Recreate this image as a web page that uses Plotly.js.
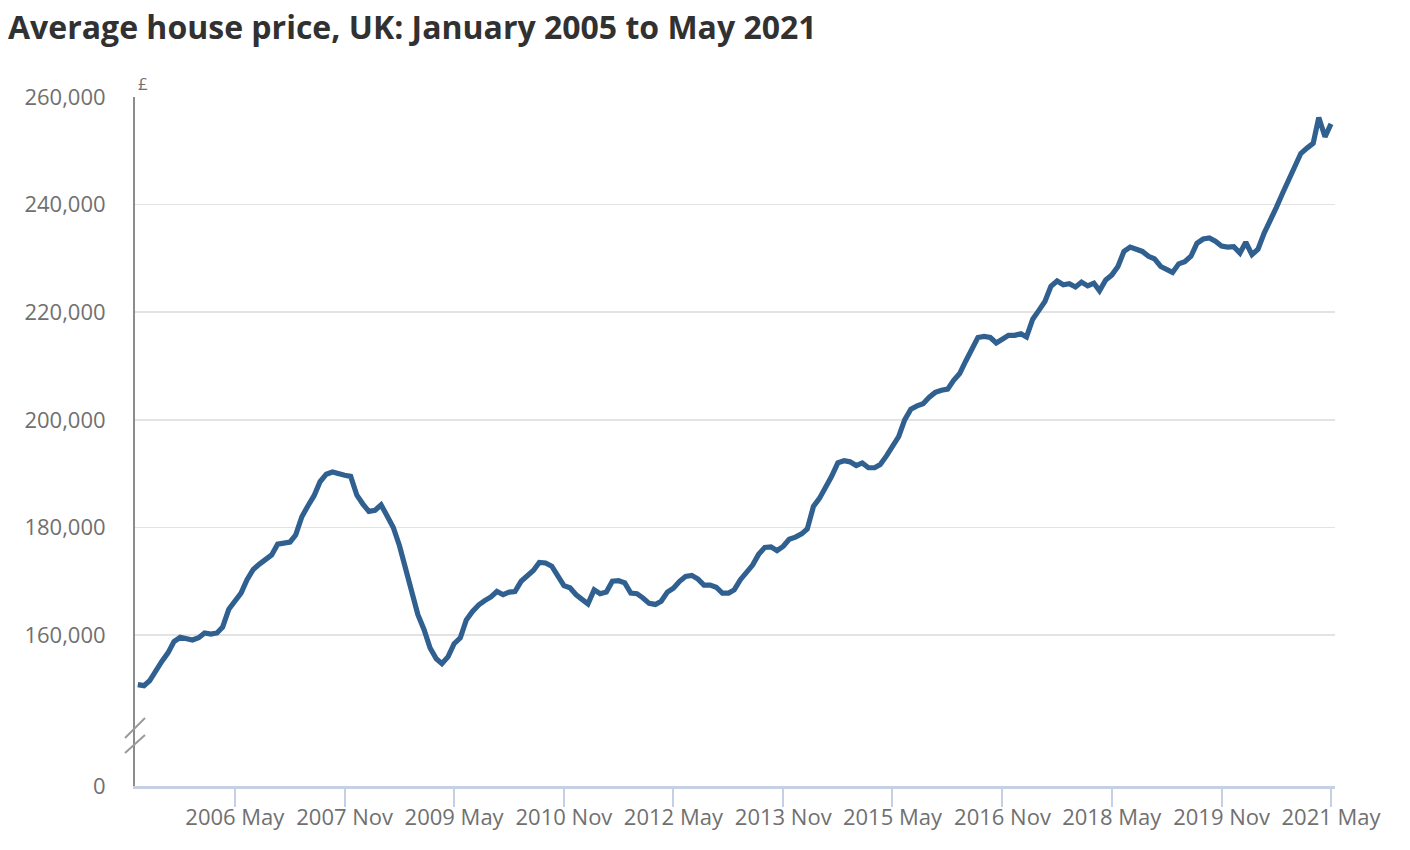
<!DOCTYPE html>
<html>
<head>
<meta charset="utf-8">
<script src="https://cdn.plot.ly/plotly-3.0.1.min.js"></script>
<style>
  html, body { margin: 0; padding: 0; background: #ffffff; }
  #chart { width: 1410px; height: 850px; }
</style>
</head>
<body>
<div id="chart"></div>
<script>
// Average house price, UK, monthly, January 2005 to May 2021 (£)
const startYear = 2005;
const startMonth = 1;
const prices = [
  // 2005
  150800, 150600, 151500, 153500, 155100, 156700, 158800, 159600, 159400, 159100, 159500, 160400,
  // 2006
  160200, 160400, 161500, 164800, 166300, 167800, 170300, 172200, 173200, 174100, 174900, 176900,
  // 2007
  177000, 177300, 178600, 182000, 184000, 185900, 188500, 189900, 190300, 189900, 189700, 189500,
  // 2008
  186000, 184300, 183000, 183200, 184200, 182100, 180000, 176600, 172000, 167900, 163800, 161100,
  // 2009
  157600, 155600, 154700, 156000, 158400, 159500, 162800, 164400, 165600, 166400, 167100, 168100,
  // 2010
  167500, 168000, 168100, 170000, 171000, 172000, 173500, 173400, 172800, 171100, 169200, 168800,
  // 2011
  167500, 166600, 165800, 168400, 167700, 168000, 170000, 170100, 169700, 167800, 167700, 166900,
  // 2012
  165900, 165700, 166300, 168000, 168700, 170000, 170900, 171100, 170400, 169300, 169300, 168900,
  // 2013
  167800, 167800, 168400, 170300, 171500, 173000, 175000, 176300, 176400, 175700, 176500, 177800,
  // 2014
  178200, 178800, 179700, 183900, 185400, 187300, 189500, 192000, 192400, 192200, 191500, 192000,
  // 2015
  191100, 191100, 191700, 193300, 195200, 196900, 200000, 202000, 202600, 203000, 204200, 205100,
  // 2016
  205500, 205700, 207300, 208600, 210900, 213200, 215300, 215500, 215300, 214300, 215100, 215700,
  // 2017
  215700, 216000, 215400, 218700, 220300, 222000, 224800, 225800, 225100, 225300, 224700, 225600,
  // 2018
  224900, 225400, 224000, 226000, 226900, 228500, 231300, 232100, 231700, 231300, 230400, 229900,
  // 2019
  228500, 227900, 227400, 229000, 229400, 230400, 232800, 233600, 233800, 233200, 232300, 232100,
  // 2020
  232200, 231000, 233000, 230700, 231700, 234700, 236900, 239500, 242100, 244600, 247400, 249500,
  // 2021
  250500, 251400, 256200, 252600, 255000
];

const tickDates = ['2006-05-01', '2007-11-01', '2009-05-01', '2010-11-01', '2012-05-01', '2013-11-01',
                   '2015-05-01', '2016-11-01', '2018-05-01', '2019-11-01', '2021-05-01'];
const tickLabels = ['2006 May', '2007 Nov', '2009 May', '2010 Nov', '2012 May', '2013 Nov',
                    '2015 May', '2016 Nov', '2018 May', '2019 Nov', '2021 May'];
const yTickVals = [160000, 180000, 200000, 220000, 240000, 260000];
const yTickLabels = ['160,000', '180,000', '200,000', '220,000', '240,000', '260,000'];

// month dates for each value
const dates = prices.map((_, i) => {
  const m0 = (startMonth - 1) + i;
  const y = startYear + Math.floor(m0 / 12);
  const m = (m0 % 12) + 1;
  return y + '-' + String(m).padStart(2, '0') + '-01';
});

const font = "'Open Sans', 'Noto Sans', sans-serif";
const tickGrey = '#707070';
const breakFrac = 41 / 689;

const trace = {
  type: 'scatter',
  mode: 'lines',
  x: dates,
  y: prices,
  xaxis: 'x',
  yaxis: 'y',
  line: { color: '#30608f', width: 5.2, shape: 'linear' },
  hoverinfo: 'x+y'
};

// empty helper trace so the lower (zero) segment of the broken y axis is created
const zeroSegment = {
  type: 'scatter',
  mode: 'lines',
  x: [],
  y: [],
  xaxis: 'x',
  yaxis: 'y2',
  hoverinfo: 'skip',
  showlegend: false
};

const layout = {
  width: 1410,
  height: 850,
  paper_bgcolor: '#ffffff',
  plot_bgcolor: '#ffffff',
  margin: { l: 135, r: 75, t: 97, b: 64, pad: 0 },
  showlegend: false,
  font: { family: font, color: tickGrey, size: 22 },
  title: {
    text: '<b>Average house price, UK: January 2005 to May 2021</b>',
    font: { family: font, size: 32, color: '#323132' },
    x: 0, xref: 'paper', xanchor: 'left',
    y: 0.967, yref: 'container', yanchor: 'middle',
    pad: { l: -127 }
  },
  xaxis: {
    type: 'date',
    anchor: 'y2',
    range: ['2004-12-18', '2021-05-21'],
    tickmode: 'array',
    tickvals: tickDates,
    ticktext: tickLabels,
    ticks: 'outside',
    ticklen: 18,
    tickwidth: 2,
    tickcolor: '#c6d0e4',
    ticklabelstandoff: -8,
    showline: true,
    linecolor: '#c6d0e4',
    linewidth: 2.5,
    showgrid: false,
    zeroline: false,
    tickfont: { family: font, size: 22, color: tickGrey }
  },
  yaxis: {
    domain: [breakFrac, 1],
    anchor: 'x',
    range: [139574, 260000],
    tickmode: 'array',
    tickvals: yTickVals,
    ticktext: yTickLabels,
    ticks: 'outside',
    ticklen: 23,
    tickcolor: 'rgba(0,0,0,0)',
    showline: true,
    linecolor: '#8c8c8c',
    linewidth: 2,
    showgrid: true,
    gridcolor: '#e3e3e3',
    gridwidth: 1.5,
    zeroline: false,
    tickfont: { family: font, size: 22, color: tickGrey }
  },
  yaxis2: {
    domain: [0, breakFrac],
    anchor: 'x',
    range: [0, 10],
    tickmode: 'array',
    tickvals: [0],
    ticktext: ['0'],
    ticks: 'outside',
    ticklen: 23,
    tickcolor: 'rgba(0,0,0,0)',
    showline: true,
    linecolor: '#8c8c8c',
    linewidth: 2,
    showgrid: false,
    zeroline: false,
    tickfont: { family: font, size: 22, color: tickGrey }
  },
  shapes: [
    { type: 'line', xref: 'paper', yref: 'paper', xsizemode: 'pixel', ysizemode: 'pixel',
      xanchor: 0, yanchor: breakFrac, x0: -10, x1: 10, y0: 7, y1: 27,
      line: { color: '#9a9a9a', width: 2 } },
    { type: 'line', xref: 'paper', yref: 'paper', xsizemode: 'pixel', ysizemode: 'pixel',
      xanchor: 0, yanchor: breakFrac, x0: -10, x1: 10, y0: -8, y1: 10,
      line: { color: '#9a9a9a', width: 2 } }
  ],
  annotations: [
    { text: '£', xref: 'paper', yref: 'paper', x: 0, y: 1, xanchor: 'left', yanchor: 'bottom',
      xshift: 1, yshift: 0, showarrow: false,
      font: { family: font, size: 17, color: tickGrey } }
  ]
};

Plotly.newPlot('chart', [trace, zeroSegment], layout, { displayModeBar: false, staticPlot: true });
</script>
</body>
</html>
